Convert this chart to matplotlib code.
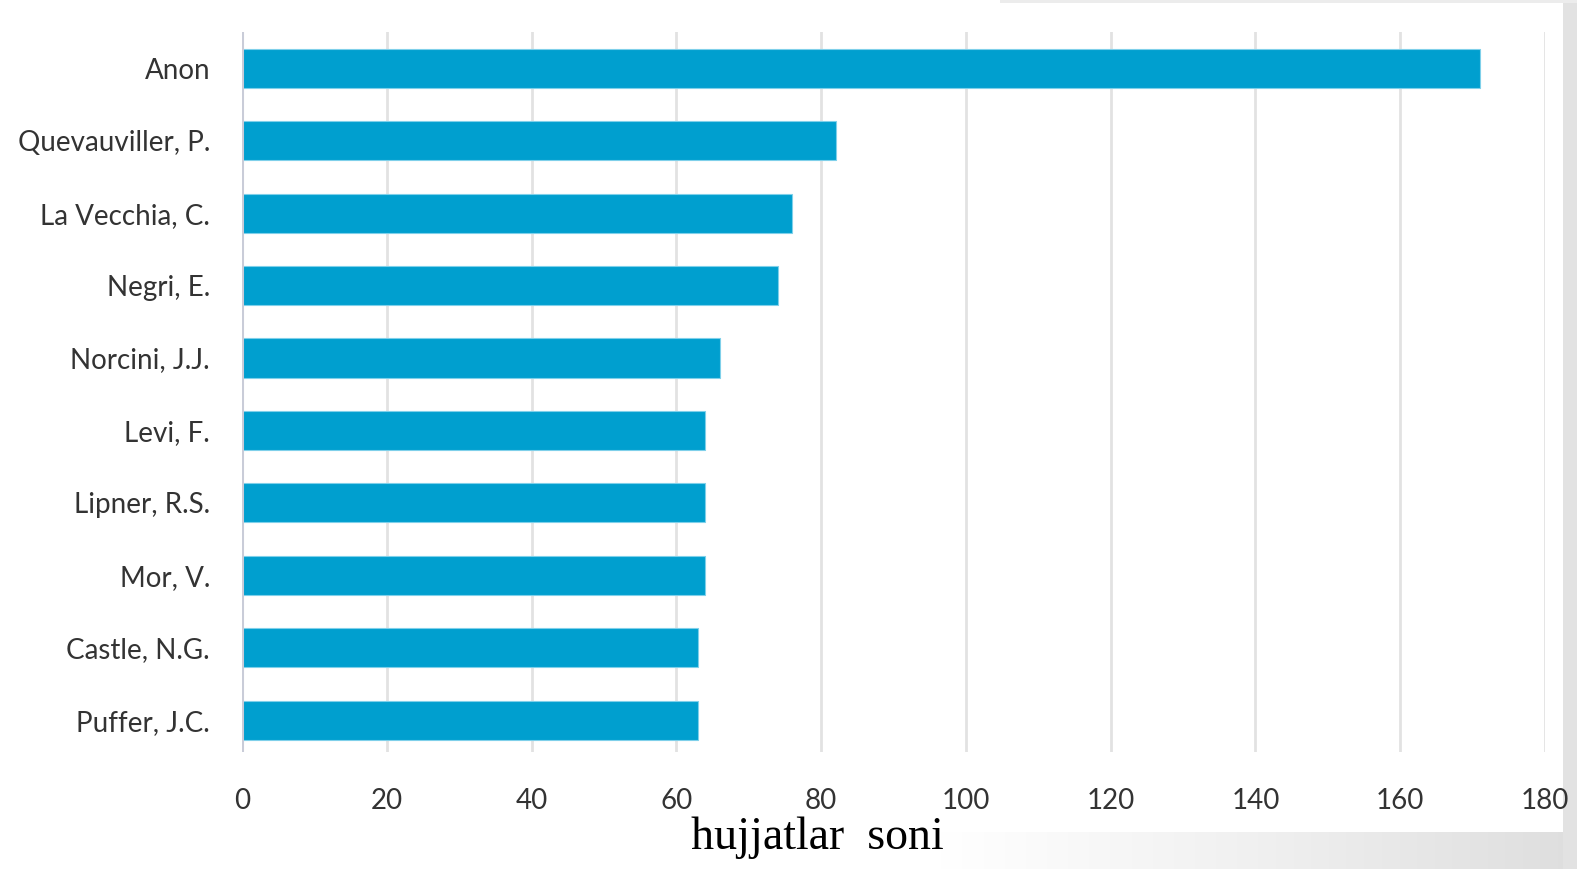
import numpy as np
import matplotlib
matplotlib.use("Agg")
import matplotlib.pyplot as plt
from matplotlib.patches import Rectangle
from matplotlib.colors import LinearSegmentedColormap

# data
authors = ["Anon", "Quevauviller, P.", "La Vecchia, C.", "Negri, E.", "Norcini, J.J.",
           "Levi, F.", "Lipner, R.S.", "Mor, V.", "Castle, N.G.", "Puffer, J.C."]
docs = [171, 82, 76, 74, 66, 64, 64, 64, 63, 63]
xticks = [0, 20, 40, 60, 80, 100, 120, 140, 160, 180]

fig = plt.figure(figsize=(15.77, 8.69), dpi=100)
fig.patch.set_facecolor("white")

# grey slide edges (right band, bottom-right fade, thin top line)
bg = fig.add_axes([0, 0, 1, 1], zorder=-5)
bg.set_xlim(0, 1577)
bg.set_ylim(869, 0)
bg.axis("off")
fade = LinearSegmentedColormap.from_list("fade", ["#ffffff", "#f0f0f0", "#dedede"])
grad = np.linspace(0, 1, 256).reshape(1, -1)
bg.imshow(grad, extent=(940, 1577, 869, 832), cmap=fade, aspect="auto")
bg.add_patch(Rectangle((1563, 0), 14, 869, color="#e2e2e2", lw=0))
bg.add_patch(Rectangle((1000, 0), 577, 3, color="#ececec", lw=0))

ax = fig.add_axes([242 / 1577, 1 - 752 / 869, 1303 / 1577, 720 / 869])
y = np.arange(len(authors))
ax.barh(y, docs, height=0.54, color="#009fcf", edgecolor="#7fd0ea", linewidth=0.8, zorder=3)
ax.set_xlim(0, 180)
ax.set_ylim(9.44, -0.5)
ax.set_xticks(xticks)
ax.set_yticks(y)
ax.set_yticklabels(authors)
ax.xaxis.grid(True, color="#e2e2e2", linewidth=2)
ax.axvline(0, color="#c9ccd8", linewidth=2.2, zorder=4)
for s in ax.spines.values():
    s.set_visible(False)
ax.tick_params(axis="both", length=0, labelsize=20, labelcolor="#333333")
ax.tick_params(axis="x", pad=26)
ax.tick_params(axis="y", pad=23)
for lab in ax.get_xticklabels() + ax.get_yticklabels():
    lab.set_family("Lato")

fig.text(817 / 1577, 1 - 838 / 869, "hujjatlar  soni", ha="center", va="center",
         fontsize=33, family="Liberation Serif", color="black")

fig.savefig("out.png", dpi=100)
